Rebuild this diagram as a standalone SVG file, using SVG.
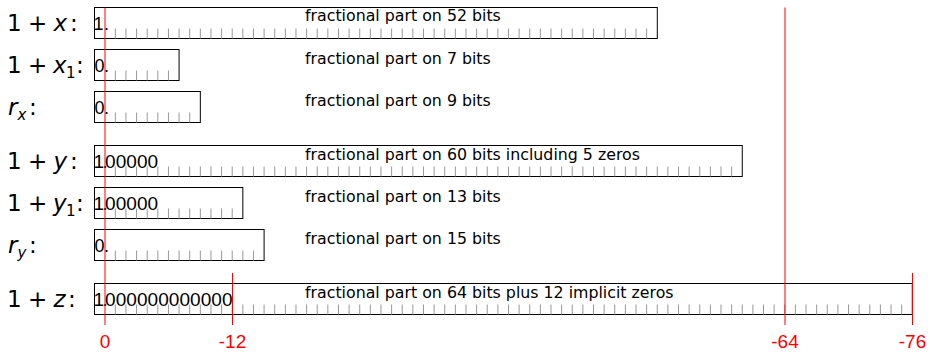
<svg xmlns="http://www.w3.org/2000/svg" width="929" height="352" viewBox="0 0 929 352">
<style>
.box{fill:none;stroke:#000;stroke-width:1}
.tk{stroke:#999;stroke-width:10;stroke-dasharray:1 9.626;fill:none}
.lab{font-family:"DejaVu Sans",sans-serif;font-size:23px;fill:#000}
.it{font-style:italic}
.sub{font-size:15px}
.desc{font-family:"DejaVu Sans",sans-serif;font-size:15.8px;fill:#000}
.dg{font-family:"Liberation Sans",Arial,sans-serif;font-size:18px;fill:#000}
.dgb{font-family:"Liberation Sans",Arial,sans-serif;font-size:19px;fill:#000}
.red{stroke:#f00;stroke-width:1;fill:none}
.ax{font-family:"Liberation Sans",Arial,sans-serif;font-size:19px;fill:#f00;text-anchor:middle}
</style>
<rect width="929" height="352" fill="#fff"/>
<g id="row-x">
<text class="lab" y="30.5"><tspan x="7">1</tspan><tspan x="28">+</tspan><tspan x="53.5" class="it">x</tspan><tspan x="70">:</tspan></text>
<rect class="box" x="94.5" y="7.5" width="562.8" height="31"/>
<line class="tk" x1="114.826" y1="33.5" x2="647.126" y2="33.5"/>
<text class="dg" x="93.5 104" y="30">1.</text>
<text class="desc" x="305" y="21">fractional part on 52 bits</text>
</g>
<g id="row-x1">
<text class="lab" y="72.5"><tspan x="7">1</tspan><tspan x="28">+</tspan><tspan x="53" class="it">x</tspan><tspan class="sub" x="66" dy="5">1</tspan><tspan x="76" dy="-5">:</tspan></text>
<rect class="box" x="94.5" y="49.5" width="84.58" height="31"/>
<line class="tk" x1="114.826" y1="75.5" x2="168.956" y2="75.5"/>
<text class="dg" x="94.5 104" y="72">0.</text>
<text class="desc" x="305" y="64">fractional part on 7 bits</text>
</g>
<g id="row-rx">
<text class="lab" y="114.5"><tspan x="8" class="it">r</tspan><tspan class="sub it" x="17.5" dy="5">x</tspan><tspan x="29" dy="-5">:</tspan></text>
<rect class="box" x="94.5" y="91.5" width="105.83" height="31"/>
<line class="tk" x1="114.826" y1="117.5" x2="190.208" y2="117.5"/>
<text class="dg" x="94.5 104" y="114">0.</text>
<text class="desc" x="305" y="106">fractional part on 9 bits</text>
</g>
<g id="row-y">
<text class="lab" y="168.5"><tspan x="7">1</tspan><tspan x="28">+</tspan><tspan x="53.5" class="it">y</tspan><tspan x="70">:</tspan></text>
<rect class="box" x="94.5" y="145.5" width="647.76" height="31"/>
<line class="tk" x1="114.826" y1="171.5" x2="732.134" y2="171.5"/>
<text class="dgb" x="93.5 102.5 105 115.63 126.25 136.88 147.5" y="168">1.00000</text>
<text class="desc" x="305" y="160">fractional part on 60 bits including 5 zeros</text>
</g>
<g id="row-y1">
<text class="lab" y="210.5"><tspan x="7">1</tspan><tspan x="28">+</tspan><tspan x="53" class="it">y</tspan><tspan class="sub" x="66" dy="5">1</tspan><tspan x="76" dy="-5">:</tspan></text>
<rect class="box" x="94.5" y="187.5" width="148.34" height="31"/>
<line class="tk" x1="114.826" y1="213.5" x2="232.712" y2="213.5"/>
<text class="dgb" x="93.5 102.5 105 115.63 126.25 136.88 147.5" y="210">1.00000</text>
<text class="desc" x="305" y="202">fractional part on 13 bits</text>
</g>
<g id="row-ry">
<text class="lab" y="252.5"><tspan x="8" class="it">r</tspan><tspan class="sub it" x="17.5" dy="5">y</tspan><tspan x="29" dy="-5">:</tspan></text>
<rect class="box" x="94.5" y="229.5" width="169.59" height="31"/>
<line class="tk" x1="114.826" y1="255.5" x2="253.964" y2="255.5"/>
<text class="dg" x="94.5 104" y="252">0.</text>
<text class="desc" x="305" y="244">fractional part on 15 bits</text>
</g>
<g id="row-z">
<text class="lab" y="306.5"><tspan x="7">1</tspan><tspan x="28">+</tspan><tspan x="53.5" class="it">z</tspan><tspan x="68">:</tspan></text>
<rect class="box" x="94.5" y="283.5" width="817.78" height="31"/>
<line class="tk" x1="114.826" y1="309.5" x2="902.15" y2="309.5"/>
<text class="dgb" x="93.5 102.5 105 115.63 126.25 136.88 147.5 158.13 168.76 179.38 190.01 200.63 211.26 221.89" y="306">1.000000000000</text>
<text class="desc" x="305" y="298">fractional part on 64 bits plus 12 implicit zeros</text>
</g>
<g id="guides">
<line class="red" x1="105" y1="7.5" x2="105" y2="325"/>
<line class="red" x1="232.5" y1="273" x2="232.5" y2="325"/>
<line class="red" x1="785" y1="7.5" x2="785" y2="325"/>
<line class="red" x1="912.5" y1="273" x2="912.5" y2="325"/>
<text class="ax" x="105" y="348">0</text>
<text class="ax" x="232.5" y="348">-12</text>
<text class="ax" x="785" y="348">-64</text>
<text class="ax" x="912.5" y="348">-76</text>
</g>
</svg>
